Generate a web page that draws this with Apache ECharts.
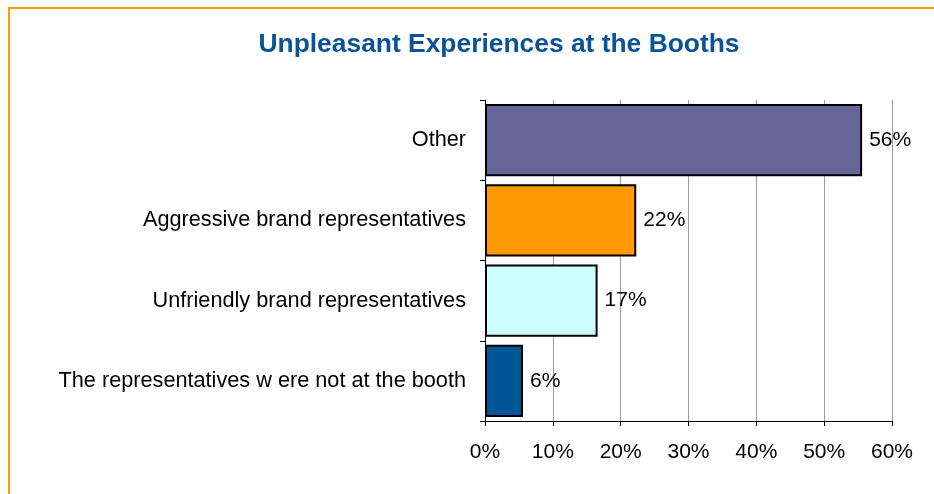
<!DOCTYPE html>
<html>
<head>
<meta charset="utf-8">
<style>
  html, body { margin: 0; padding: 0; background: #fff; }
  #chart { width: 934px; height: 494px; }
</style>
<script src="https://cdn.jsdelivr.net/npm/echarts@6/dist/echarts.min.js"></script>
</head>
<body>
<div id="chart"></div>
<script>
// Survey answers, listed top to bottom
const categories = [
  'Other',
  'Aggressive brand representatives',
  'Unfriendly brand representatives',
  'The representatives w ere not at the booth'
];
// Share of respondents, in percent
const shares = [55.6, 22.3, 16.6, 5.6];
const barColors = ['#666699', '#FF9900', '#CCFFFF', '#005597'];
const xTicks = [0, 10, 20, 30, 40, 50, 60];

const font = 'Liberation Sans, Arial, sans-serif';
const chart = echarts.init(document.getElementById('chart'));

chart.setOption({
  animation: false,
  backgroundColor: '#ffffff',
  title: {
    text: 'Unpleasant Experiences at the Booths',
    left: 494,
    textAlign: 'center',
    top: 27,
    textStyle: { fontFamily: font, fontSize: 26.4, fontWeight: 'bold', color: '#0A5396' }
  },
  graphic: [
    {
      type: 'polyline',
      shape: { points: [[9, 494], [9, 8], [934, 8]] },
      style: { stroke: '#FF9900', lineWidth: 2, fill: null }
    }
  ],
  grid: { left: 485, right: 42, top: 100, bottom: 73, containLabel: false },
  xAxis: {
    type: 'value',
    min: xTicks[0],
    max: xTicks[xTicks.length - 1],
    interval: 10,
    axisLine: { show: true, lineStyle: { color: '#000', width: 1 } },
    axisTick: { show: true, length: 5, lineStyle: { color: '#000' } },
    axisLabel: {
      margin: 21,
      fontFamily: font, fontSize: 21, color: '#000',
      formatter: v => v + '%'
    },
    splitLine: { show: true, lineStyle: { color: '#9a9a9a', width: 1 } }
  },
  yAxis: {
    type: 'category',
    data: categories,
    inverse: true,
    axisLine: { show: true, lineStyle: { color: '#000', width: 1 } },
    axisTick: { show: true, length: 5, lineStyle: { color: '#000' } },
    axisLabel: { margin: 19, fontFamily: font, fontSize: 21.7, color: '#000' },
    splitLine: { show: false }
  },
  series: [{
    type: 'bar',
    data: shares.map((v, i) => ({ value: v, itemStyle: { color: barColors[i] } })),
    barCategoryGap: '10%',
    itemStyle: { borderColor: '#000', borderWidth: 2 },
    label: {
      show: true,
      position: 'right',
      distance: 7,
      fontFamily: font, fontSize: 21, color: '#000',
      formatter: p => Math.round(p.value) + '%'
    }
  }]
});
</script>
</body>
</html>
